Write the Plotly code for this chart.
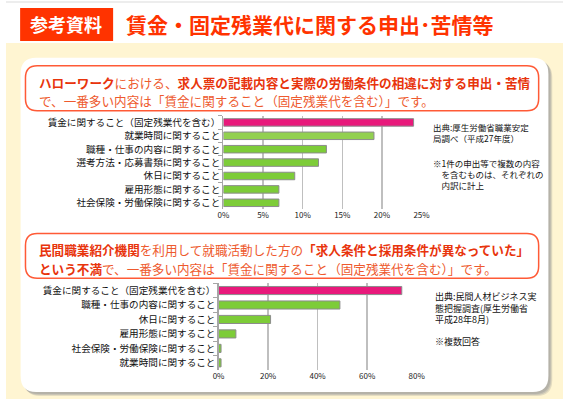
import plotly.graph_objects as go

W, H = 572, 399

# ---------------- data ----------------
cats_top = ["賃金に関すること（固定残業代を含む）", "就業時間に関すること", "職種・仕事の内容に関すること",
            "選考方法・応募書類に関すること", "休日に関すること", "雇用形態に関すること",
            "社会保険・労働保険に関すること"]
vals_top = [24, 19, 13, 12, 9, 7, 7]
colors_top = ["#E8197B", "#92D050", "#7DCC38", "#7DCC38", "#7DCC38", "#7DCC38", "#7DCC38"]
ticks_top = [0, 5, 10, 15, 20, 25]
ticklabels_top = ["0%", "5%", "10%", "15%", "20%", "25%"]

cats_bot = ["賃金に関すること（固定残業代を含む）", "職種・仕事の内容に関すること", "休日に関すること",
            "雇用形態に関すること", "社会保険・労働保険に関すること", "就業時間に関すること"]
vals_bot = [74, 49, 21, 7, 1, 1]
colors_bot = ["#E8197B", "#7DCC38", "#7DCC38", "#7DCC38", "#7DCC38", "#7DCC38"]
ticks_bot = [0, 20, 40, 60, 80]
ticklabels_bot = ["0%", "20%", "40%", "60%", "80%"]

FONT = "Noto Sans CJK JP"
RED = "#FF3300"
BOLDRED = "#E8340C"
NORMRED = "#EE5A2E"


def X(x):
    return x / W


def Y(y):
    return 1 - y / H


def rr(x0, y0, x1, y1, r):
    p = [
        f"M {X(x0 + r)},{Y(y0)}", f"L {X(x1 - r)},{Y(y0)}", f"Q {X(x1)},{Y(y0)} {X(x1)},{Y(y0 + r)}",
        f"L {X(x1)},{Y(y1 - r)}", f"Q {X(x1)},{Y(y1)} {X(x1 - r)},{Y(y1)}",
        f"L {X(x0 + r)},{Y(y1)}", f"Q {X(x0)},{Y(y1)} {X(x0)},{Y(y1 - r)}",
        f"L {X(x0)},{Y(y0 + r)}", f"Q {X(x0)},{Y(y0)} {X(x0 + r)},{Y(y0)}", "Z"]
    return " ".join(p)


fig = go.Figure()
fig.add_trace(go.Bar(y=cats_top, x=vals_top, orientation="h", xaxis="x", yaxis="y",
                     marker=dict(color=colors_top, line=dict(color="#8C8C8C", width=1)),
                     hoverinfo="skip"))
fig.add_trace(go.Bar(y=cats_bot, x=vals_bot, orientation="h", xaxis="x2", yaxis="y2",
                     marker=dict(color=colors_bot, line=dict(color="#8C8C8C", width=1)),
                     hoverinfo="skip"))

shapes = []
# top thin gray band and yellow background
shapes.append(dict(type="rect", xref="paper", yref="paper", x0=0, x1=1, y0=Y(2), y1=1,
                   fillcolor="#EDEDED", line=dict(width=0), layer="below"))
shapes.append(dict(type="rect", xref="paper", yref="paper", x0=0, x1=1, y0=0, y1=Y(42),
                   fillcolor="#FFF5D2", line=dict(width=0), layer="below"))
# panel shadow
for off, col in [(4, "#E4DCC0"), (3, "#C9C4B4"), (2, "#B5B2A8")]:
    shapes.append(dict(type="path", xref="paper", yref="paper", path=rr(15 + off, 57 + off, 557 + off, 392 + off, 16),
                       fillcolor=col, line=dict(width=0), layer="below"))
# white panel
shapes.append(dict(type="path", xref="paper", yref="paper", path=rr(15, 57, 557, 392, 16),
                   fillcolor="white", line=dict(width=0), layer="below"))
# header red box
shapes.append(dict(type="rect", xref="paper", yref="paper", x0=X(14.5), x1=X(110), y0=Y(40), y1=Y(7),
                   fillcolor=RED, line=dict(width=0), layer="below"))
# text boxes
shapes.append(dict(type="path", xref="paper", yref="paper", path=rr(20, 65, 547, 110, 12),
                   fillcolor="white", line=dict(color="#FF5A36", width=1.5), layer="below"))
shapes.append(dict(type="path", xref="paper", yref="paper", path=rr(20, 233, 547, 278, 12),
                   fillcolor="white", line=dict(color="#FF5A36", width=1.5), layer="below"))

ann = []
ann.append(dict(text="<b>参考資料</b>", x=X(62), y=Y(23.5), xref="paper", yref="paper", showarrow=False,
                xanchor="center", yanchor="middle", font=dict(family=FONT, size=18, color="white")))
ann.append(dict(text="<b>賃金・固定残業代に関する申出･苦情等</b>", x=X(121), y=Y(23.5), xref="paper", yref="paper",
                showarrow=False, xanchor="left", yanchor="middle", font=dict(family=FONT, size=21, color=RED)))


def rich(parts):
    out = []
    for t, b in parts:
        if b:
            out.append(f"<b><span style='color:{BOLDRED}'>{t}</span></b>")
        else:
            out.append(f"<span style='color:{NORMRED}'>{t}</span>")
    return "".join(out)


box_lines = [
    (82, 12.6, [("ハローワーク", True), ("における、", False), ("求人票の記載内容と実際の労働条件の相違に対する申出・苦情", True)]),
    (100, 12.6, [("で、一番多い内容は「賃金に関すること（固定残業代を含む）」です。", False)]),
    (249, 12.6, [("民間職業紹介機関", True), ("を利用して就職活動した方の", False), ("「求人条件と採用条件が異なっていた」", True)]),
    (268, 12.6, [("という不満", True), ("で、一番多い内容は「賃金に関すること（固定残業代を含む）」です。", False)]),
]
for yy, fs, parts in box_lines:
    ann.append(dict(text=rich(parts), x=X(32), y=Y(yy), xref="paper", yref="paper", showarrow=False,
                    xanchor="left", yanchor="middle", font=dict(family=FONT, size=fs, color=NORMRED)))

notes = [
    (436, 118.5, 8.5, "出典:厚生労働省職業安定<br>局調べ（平成27年度）"),
    (436, 154.5, 8.5, "※1件の申出等で複数の内容<br>　を含むものは、それぞれの<br>　内訳に計上"),
    (438, 287.5, 9, "出典:民間人材ビジネス実<br>態把握調査(厚生労働省<br>平成28年8月)"),
    (438, 332.5, 9, "※複数回答"),
]
for xx, yy, fs, t in notes:
    ann.append(dict(text=t, x=X(xx), y=Y(yy), xref="paper", yref="paper", showarrow=False, align="left",
                    xanchor="left", yanchor="top", font=dict(family=FONT, size=fs, color="#111111")))

xcommon = dict(showgrid=True, gridcolor="#BFBFBF", gridwidth=1.3, zeroline=False, showline=False,
               tickfont=dict(family=FONT, size=8, color="#222222"), ticks="",
               fixedrange=True)
ycommon = dict(type="category", autorange="reversed", showline=True, linecolor="#A6A6A6", linewidth=1.2,
               ticks="outside", tickson="boundaries", ticklen=4, tickcolor="#A6A6A6",
               tickfont=dict(family=FONT, size=9.6, color="#111111"), showgrid=False, fixedrange=True)

fig.update_layout(
    width=W, height=H, margin=dict(l=0, r=0, t=0, b=0),
    paper_bgcolor="white", plot_bgcolor="rgba(0,0,0,0)",
    showlegend=False, bargap=0.44,
    xaxis=dict(domain=[X(223.3), X(426.7)], range=[0, 25], tickvals=ticks_top, ticktext=ticklabels_top,
               anchor="y", **xcommon),
    yaxis=dict(domain=[Y(209), Y(115)], anchor="x", **ycommon),
    xaxis2=dict(domain=[X(218.3), X(421.7)], range=[0, 80], tickvals=ticks_bot, ticktext=ticklabels_bot,
                anchor="y2", **xcommon),
    yaxis2=dict(domain=[Y(370), Y(283)], anchor="x2", **ycommon),
    shapes=shapes, annotations=ann,
    font=dict(family=FONT),
)

fig.write_html("out.html", config={"displayModeBar": False, "staticPlot": True},
               post_script="document.body.style.margin='0';document.body.style.overflow='hidden';")
